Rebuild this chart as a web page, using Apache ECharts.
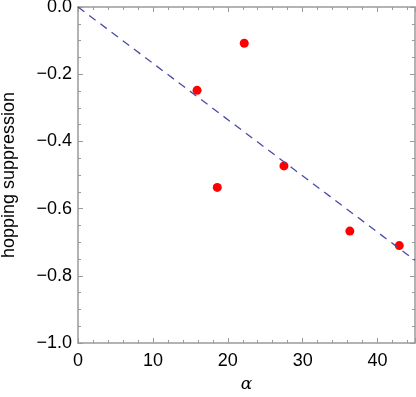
<!DOCTYPE html>
<html>
<head>
	<meta charset="utf-8" />
	<script src="https://cdn.jsdelivr.net/npm/echarts@6/dist/echarts.min.js"></script>
</head>
<body style="margin:0;">
	<div id="main" style="width: 416px;height:397px;"></div>
	<script type="text/javascript">
		// measured points
		var alphaVals = [15.9, 18.6, 22.2, 27.5, 36.3, 42.9];
		var suppVals = [-0.248, -0.537, -0.108, -0.473, -0.667, -0.710];
		// dashed fit line endpoints
		var fitX = [0, 45];
		var fitY = [0, -0.754];

		var pts = alphaVals.map(function (a, i) { return [a, suppVals[i]]; });
		var fit = fitX.map(function (a, i) { return [a, fitY[i]]; });

		var axisCol = '#9a9a9a';
		var lblFont = { color: '#000', fontSize: 18, fontFamily: 'Liberation Sans' };

		function frameAxis(pos, min, max, interval, split, showLabel, fmt) {
			return {
				type: 'value', position: pos, min: min, max: max, interval: interval,
				splitLine: { show: false },
				axisLine: { show: true, onZero: false, lineStyle: { color: axisCol, width: 1.5 } },
				axisTick: { show: true, inside: true, length: 5, lineStyle: { color: axisCol } },
				minorTick: { show: true, splitNumber: split, length: 3, lineStyle: { color: axisCol } },
				axisLabel: Object.assign({ show: showLabel, formatter: fmt }, lblFont)
			};
		}

		var fmtX = function (v) { return String(v); };
		var fmtY = function (v) { return v.toFixed(1).replace('-', '\u2212'); };

		var myChart = echarts.init(document.getElementById('main'));
		var xBottom = frameAxis('bottom', 0, 45, 10, 5, true, fmtX);
		xBottom.axisLabel.margin = 9;
		xBottom.axisLabel.showMaxLabel = false;
		xBottom.name = '\u03b1';
		xBottom.nameLocation = 'middle';
		xBottom.nameGap = 33;
		xBottom.nameTextStyle = { fontSize: 17, fontStyle: 'italic', fontFamily: 'DejaVu Serif', color: '#000' };
		var yLeft = frameAxis('left', -1, 0, 0.2, 4, true, fmtY);
		yLeft.axisLabel.margin = 6;
		yLeft.name = 'hopping suppression';
		yLeft.nameLocation = 'middle';
		yLeft.nameGap = 60;
		yLeft.nameTextStyle = { fontSize: 18, fontFamily: 'Liberation Sans', color: '#000' };

		var option = {
			animation: false,
			grid: { left: 78, right: 1, top: 7, bottom: 54, outerBoundsMode: 'none', containLabel: false },
			xAxis: [xBottom, frameAxis('top', 0, 45, 10, 5, false)],
			yAxis: [yLeft, frameAxis('right', -1, 0, 0.2, 4, false)],
			series: [
				{
					type: 'line', data: fit, symbol: 'none', xAxisIndex: 0, yAxisIndex: 0,
					lineStyle: { color: '#4b4ba6', width: 1.3, type: [8, 6] }
				},
				{
					type: 'scatter', data: pts, symbolSize: 9, xAxisIndex: 0, yAxisIndex: 0,
					itemStyle: { color: '#ff0000', opacity: 1 }
				}
			]
		};
		myChart.setOption(option);
	</script>
</body>
</html>
